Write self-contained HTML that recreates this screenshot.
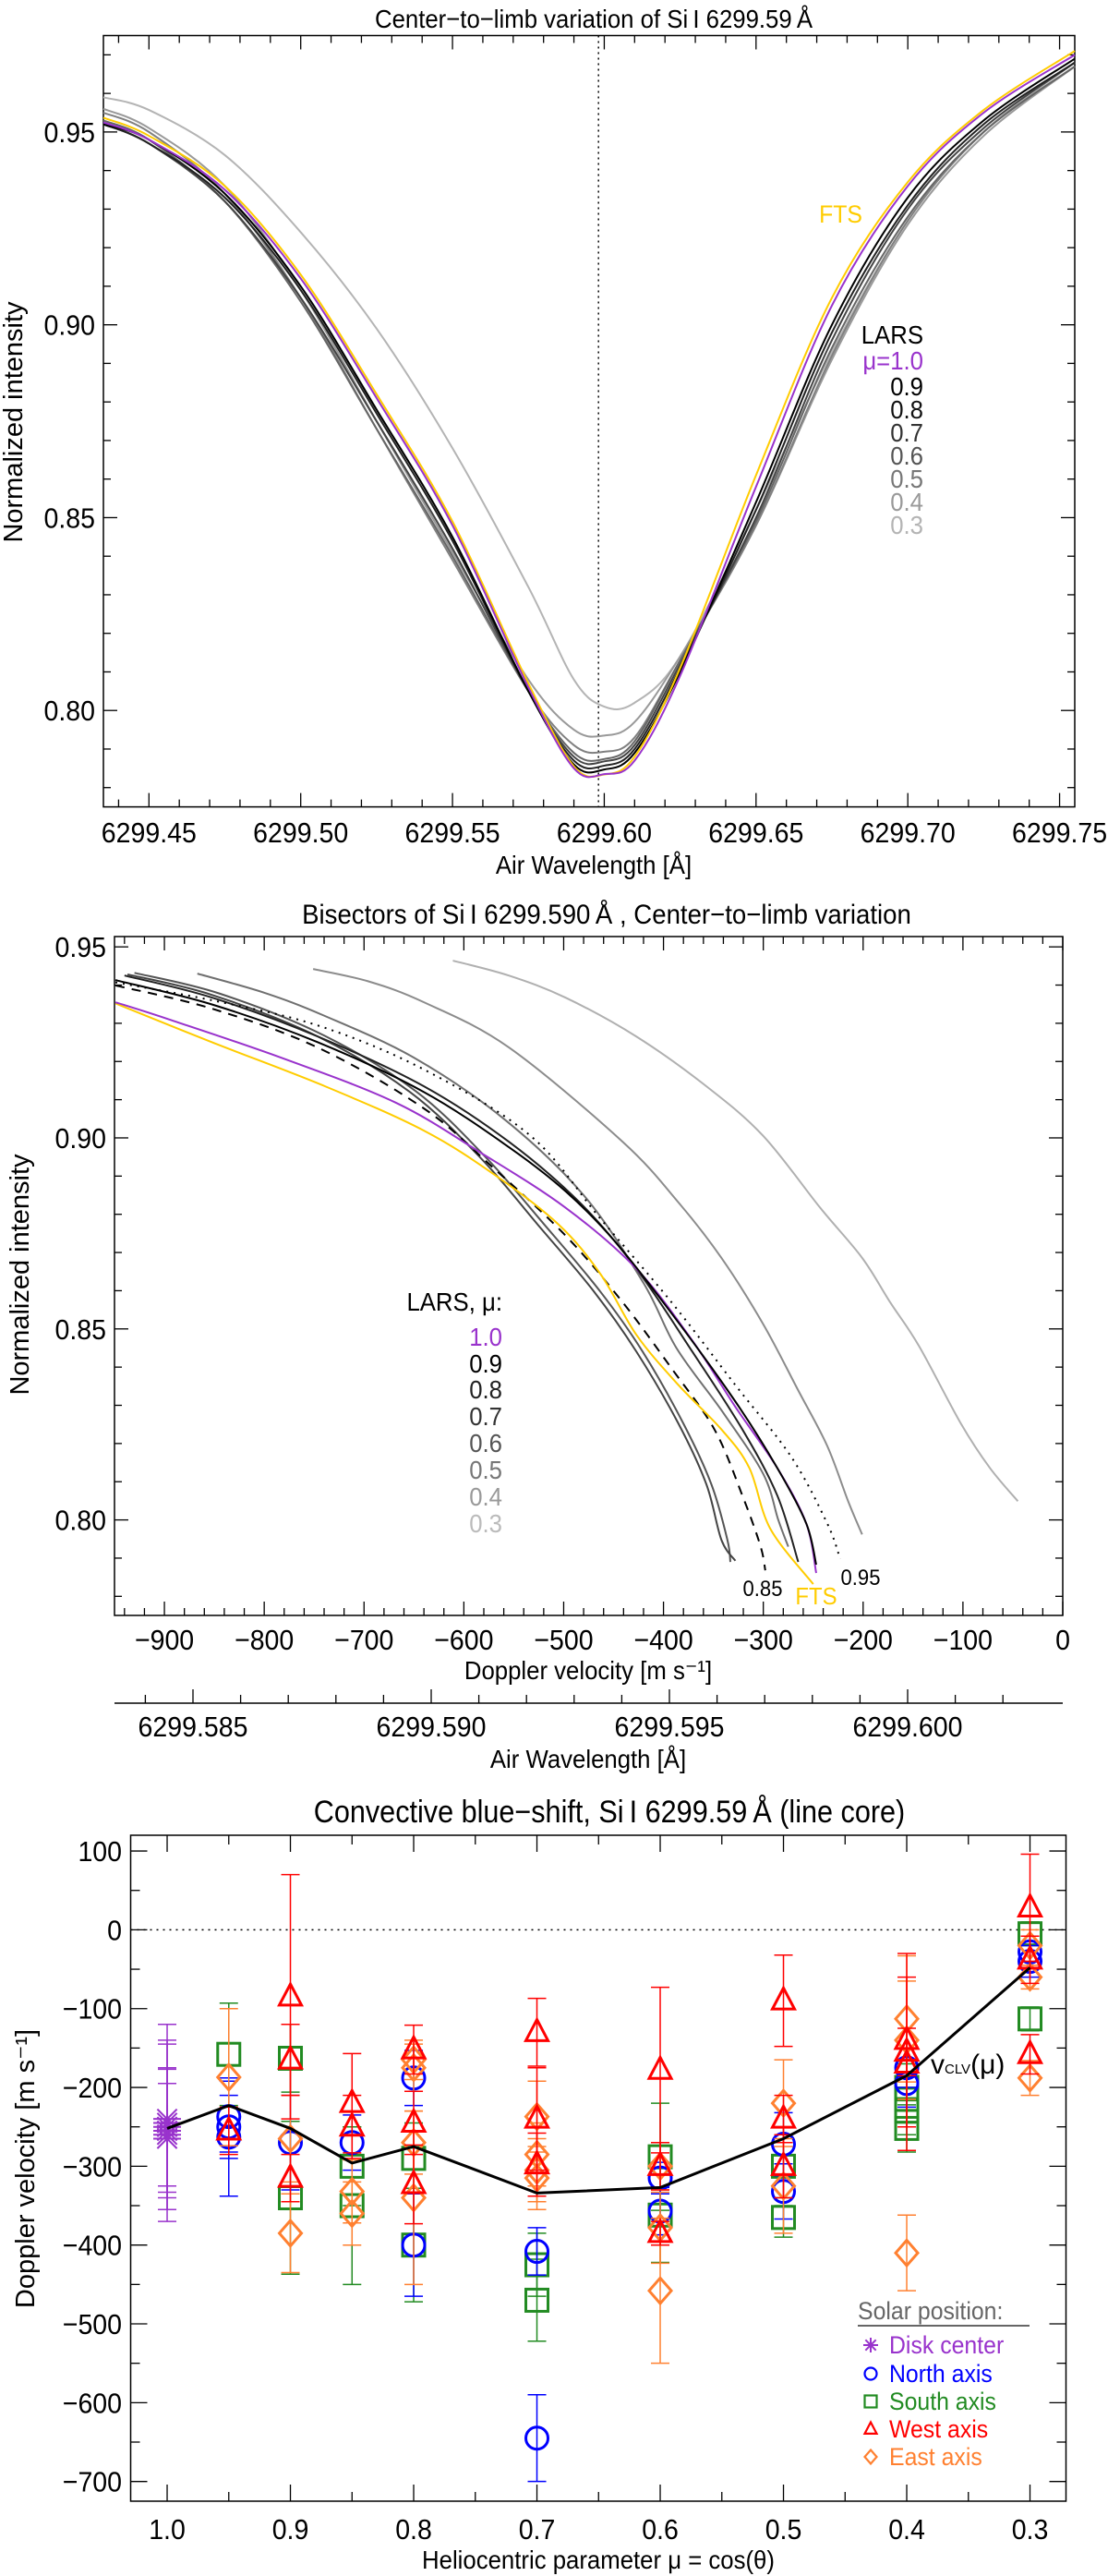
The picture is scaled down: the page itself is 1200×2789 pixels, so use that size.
<!DOCTYPE html>
<html><head><meta charset="utf-8"><style>
html,body{margin:0;padding:0;background:#fff;}
svg{display:block;font-family:"Liberation Sans",sans-serif;}
</style></head><body>
<svg id="fig" xmlns="http://www.w3.org/2000/svg" width="1200" height="2789" viewBox="0 0 1200 2789"></svg>
<script>
// ===== Panel 1 data: line profiles =====
const p1Wave = [6299.435,6299.45,6299.475,6299.50,6299.525,6299.55,6299.575,6299.59,6299.60,6299.61,6299.625,6299.65,6299.675,6299.70,6299.725,6299.755];
const p1FTS  = [0.9537,0.949,0.936,0.913,0.882,0.849,0.807,0.7855,0.7834,0.788,0.811,0.861,0.907,0.937,0.9557,0.971];
const p1Mu10 = [0.9525,0.948,0.935,0.912,0.881,0.848,0.806,0.785,0.7835,0.787,0.809,0.858,0.905,0.936,0.955,0.970];
const p1Mu09 = [0.952,0.948,0.934,0.910,0.878,0.845,0.805,0.786,0.7847,0.789,0.810,0.854,0.900,0.933,0.953,0.969];
const p1Mu08 = [0.952,0.947,0.933,0.909,0.877,0.844,0.805,0.787,0.7857,0.790,0.811,0.852,0.898,0.931,0.952,0.968];
const p1Mu07 = [0.952,0.947,0.932,0.907,0.875,0.842,0.805,0.788,0.7868,0.791,0.812,0.850,0.896,0.930,0.951,0.968];
const p1Mu06 = [0.953,0.948,0.932,0.906,0.873,0.840,0.805,0.789,0.7874,0.792,0.813,0.849,0.894,0.928,0.950,0.967];
const p1Mu05 = [0.955,0.950,0.934,0.907,0.873,0.839,0.805,0.791,0.7893,0.793,0.813,0.848,0.892,0.927,0.950,0.967];
const p1Mu04 = [0.956,0.951,0.936,0.909,0.875,0.841,0.808,0.795,0.7935,0.797,0.814,0.848,0.891,0.926,0.949,0.967];
const p1Mu03 = [0.959,0.9557,0.944,0.924,0.899,0.868,0.832,0.808,0.801,0.802,0.814,0.852,0.893,0.927,0.950,0.968];
const p1XTicks = ["6299.45","6299.50","6299.55","6299.60","6299.65","6299.70","6299.75"];
const p1YTicks = ["0.80","0.85","0.90","0.95"];

// ===== Panel 2 data: bisectors (velocity, intensity) =====
const bsFTSv = [-949,-852,-739,-640,-569,-505,-463,-427,-385,-342,-314,-293,-250];
const bsFTSi = [0.9352,0.925,0.9135,0.9019,0.8903,0.8773,0.8643,0.8484,0.8353,0.8237,0.8136,0.7977,0.7832];
const bsMu10v = [-949,-894,-781,-668,-583,-498,-427,-371,-328,-286,-257,-247];
const bsMu10i = [0.9355,0.9309,0.9208,0.9092,0.8961,0.8817,0.8657,0.8469,0.8296,0.8136,0.7991,0.7861];
const bsMu09v = [-949,-852,-746,-640,-555,-498,-449,-392,-328,-286,-257,-247];
const bsMu09i = [0.9413,0.9349,0.925,0.912,0.8976,0.886,0.873,0.8541,0.831,0.8136,0.7991,0.7883];
const bsMu08v = [-940,-852,-746,-640,-555,-484,-427,-371,-321,-286,-265];
const bsMu08i = [0.9425,0.9367,0.9265,0.9135,0.899,0.8831,0.8657,0.844,0.8237,0.8064,0.789];
const bsMu07v = [-937,-852,-746,-654,-583,-526,-470,-427,-385,-357,-342,-328];
const bsMu07i = [0.9428,0.9374,0.9265,0.912,0.8947,0.8773,0.8599,0.844,0.8252,0.8093,0.7948,0.7893];
const bsMu06v = [-930,-845,-740,-648,-578,-520,-464,-421,-380,-352,-336,-333];
const bsMu06i = [0.9432,0.9378,0.9268,0.9122,0.8949,0.8775,0.86,0.8441,0.8252,0.8093,0.7948,0.789];
const bsMu05v = [-867,-800,-740,-650,-560,-480,-420,-387,-340,-300,-285,-275];
const bsMu05i = [0.943,0.938,0.932,0.921,0.905,0.885,0.862,0.845,0.828,0.812,0.800,0.793];
const bsMu04v = [-751,-696,-640,-555,-441,-385,-342,-300,-265,-236,-215,-201];
const bsMu04i = [0.9442,0.941,0.9355,0.9237,0.899,0.8831,0.8686,0.8512,0.8339,0.8194,0.8049,0.7962];
const bsMu03v = [-611,-555,-498,-427,-357,-300,-243,-201,-173,-144,-102,-73,-45];
const bsMu03i = [0.9464,0.9425,0.9367,0.9265,0.9135,0.9005,0.8817,0.8686,0.857,0.8455,0.8252,0.8136,0.8049];
const bs085v = [-949,-852,-746,-640,-569,-498,-441,-392,-349,-321,-303,-298];
const bs085i = [0.9399,0.9338,0.9236,0.9077,0.8918,0.8744,0.857,0.8397,0.8237,0.8064,0.7933,0.7868];
const bs095v = [-949,-852,-746,-640,-533,-463,-392,-328,-272,-236,-223];
const bs095i = [0.9407,0.936,0.9294,0.9179,0.9005,0.8788,0.857,0.8353,0.8165,0.7991,0.7898];
const p2XTicks = ["-900","-800","-700","-600","-500","-400","-300","-200","-100","0"];
const p2YTicks = ["0.80","0.85","0.90","0.95"];
const p2WTicks = ["6299.585","6299.590","6299.595","6299.600"];

// ===== Panel 3 data: convective blue-shift =====
const clvMu  = [1.0,0.95,0.9,0.85,0.8,0.7,0.6,0.5,0.4,0.3];
const clvVel = [-252,-223,-252,-296,-275,-334,-327,-265,-185,-48];
const diskMu  = [1.0,1.0,1.0,1.0,1.0,1.0];
const diskVel = [-245,-250,-255,-260,-240,-265];
const diskErr = [125,105,78,65,100,90];
const northMu  = [0.95,0.95,0.95,0.9,0.85,0.8,0.8,0.7,0.7,0.6,0.6,0.5,0.5,0.4,0.4,0.3,0.3];
const northVel = [-237,-250,-263,-270,-270,-188,-400,-408,-645,-315,-357,-272,-332,-175,-195,-28,-40];
const northErr = [45,40,75,60,35,35,65,30,55,20,30,40,35,25,30,20,20];
const southMu  = [0.95,0.9,0.9,0.85,0.85,0.8,0.8,0.7,0.7,0.6,0.6,0.5,0.5,0.4,0.4,0.4,0.4,0.3,0.3];
const southVel = [-158,-163,-340,-300,-350,-290,-400,-425,-470,-288,-362,-300,-365,-200,-215,-230,-252,-5,-113];
const southErr = [65,43,97,50,100,45,72,40,52,68,60,50,25,30,30,30,30,15,15];
const westMu  = [0.95,0.9,0.9,0.9,0.85,0.85,0.8,0.8,0.8,0.7,0.7,0.7,0.6,0.6,0.6,0.5,0.5,0.5,0.4,0.4,0.4,0.3,0.3,0.3];
const westVel = [-255,-85,-165,-315,-220,-250,-152,-245,-323,-130,-240,-298,-178,-300,-385,-90,-240,-300,-140,-155,-170,28,-38,-158];
const westErr = [30,155,45,30,63,40,31,40,50,43,65,40,105,30,15,58,30,40,110,30,110,68,30,25];
const eastMu  = [0.95,0.9,0.9,0.85,0.85,0.8,0.8,0.8,0.8,0.7,0.7,0.7,0.7,0.6,0.6,0.6,0.5,0.5,0.4,0.4,0.4,0.3,0.3,0.3];
const eastVel = [-187,-265,-385,-332,-360,-165,-175,-270,-340,-237,-285,-305,-315,-300,-378,-458,-220,-325,-113,-140,-410,-20,-60,-188];
const eastErr = [87,55,50,40,40,25,30,40,110,45,40,40,40,30,45,92,55,60,80,75,48,20,15,22];
const p3XTicks = ["1.0","0.9","0.8","0.7","0.6","0.5","0.4","0.3"];
const p3YTicks = ["-700","-600","-500","-400","-300","-200","-100","0","100"];

// ===== drawing =====
const NS="http://www.w3.org/2000/svg";
const svg=document.getElementById('fig');
function mk(tag,attrs,parent){const e=document.createElementNS(NS,tag);for(const k in attrs)e.setAttribute(k,attrs[k]);(parent||svg).appendChild(e);return e;}
function txt(x,y,s,size,anchor,color,sx,parent){
  const t=mk('text',{x:0,y:0,'font-size':size,'text-anchor':anchor||'start',fill:color||'#000',transform:`translate(${x},${y}) scale(${sx||0.92},1)`},parent);
  t.textContent=s;return t;}
function line(x1,y1,x2,y2,stroke,w,parent,dash){return mk('line',{x1,y1,x2,y2,stroke,'stroke-width':w,'stroke-dasharray':dash||'none'},parent);}
function smoothPath(pts){
  let d=`M${pts[0][0]},${pts[0][1]}`;
  for(let i=0;i<pts.length-1;i++){
    const p0=pts[Math.max(0,i-1)],p1=pts[i],p2=pts[i+1],p3=pts[Math.min(pts.length-1,i+2)];
    const c1=[p1[0]+(p2[0]-p0[0])/6,p1[1]+(p2[1]-p0[1])/6];
    const c2=[p2[0]-(p3[0]-p1[0])/6,p2[1]-(p3[1]-p1[1])/6];
    d+=` C${c1[0]},${c1[1]} ${c2[0]},${c2[1]} ${p2[0]},${p2[1]}`;
  }return d;}
function fmtMinus(s){return s.replace('-','\u2212');}

// ---------- Panel 1 ----------
const P1={l:112,r:1164,t:38.5,b:873.6,x0:6299.435,x1:6299.755,y0:0.775,y1:0.975};
const x1=w=>P1.l+(w-P1.x0)/(P1.x1-P1.x0)*(P1.r-P1.l);
const y1=v=>P1.t+(P1.y1-v)/(P1.y1-P1.y0)*(P1.b-P1.t);
const g1=mk('g',{});


let t=txt(643,30,'Center\u2212to\u2212limb variation of Si\u2009I 6299.59\u2009Å',28,'middle','#000',0.92,g1);

mk('rect',{x:P1.l,y:P1.t,width:P1.r-P1.l,height:P1.b-P1.t,fill:'none',stroke:'#000','stroke-width':1.5},g1);
for(let k=0;k<=32;k++){const w=6299.44+k*0.01;if(w>P1.x1+1e-9)break;const X=x1(w);const maj=Math.abs(Math.round(w*20)-w*20)<1e-6;const L=maj?15:8;
  line(X,P1.b,X,P1.b-L,'#000',1.3,g1);line(X,P1.t,X,P1.t+L,'#000',1.3,g1);}
p1XTicks.forEach(s=>{const X=x1(parseFloat(s));const e=txt(X,912,s,31,'middle','#000',0.92,g1);});
for(let k=0;k<=20;k++){const v=0.78+k*0.01;if(v>P1.y1)break;const Y=y1(v);const maj=Math.abs(Math.round(v*20)-v*20)<1e-6;const L=maj?15:8;
  line(P1.l,Y,P1.l+L,Y,'#000',1.3,g1);line(P1.r,Y,P1.r-L,Y,'#000',1.3,g1);}
p1YTicks.forEach(s=>{const e=txt(103,y1(parseFloat(s))+11,s,31,'end','#000',0.92,g1);});
t=txt(643,946,'Air Wavelength [Å]',28,'middle','#000',0.92,g1);
t=mk('text',{x:0,y:0,'font-size':29,'text-anchor':'middle',transform:`translate(24,457) rotate(-90)`},g1);t.textContent='Normalized intensity';

line(x1(6299.5981),P1.t,x1(6299.5981),P1.b,'#000',1.5,g1,'2,4');
const p1Series=[[p1Mu03,'#b4b4b4','mu-0.3'],[p1Mu04,'#999','mu-0.4'],[p1Mu05,'#808080','mu-0.5'],[p1Mu06,'#666','mu-0.6'],[p1Mu07,'#444','mu-0.7'],[p1Mu08,'#222','mu-0.8'],[p1Mu09,'#000','mu-0.9'],[p1FTS,'#ffcc00','fts'],[p1Mu10,'#9933cc','mu-1.0']];
p1Series.forEach(([vals,c,n])=>{const pts=p1Wave.map((w,i)=>[x1(w),y1(vals[i])]);
  const p=mk('path',{d:smoothPath(pts),fill:'none',stroke:c,'stroke-width':2},g1);
  });
t=txt(934,241,'FTS',27,'end','#ffcc00',0.92,g1);
const p1Leg=[['LARS','#000',372],['\u03bc=1.0','#9933cc',400],['0.9','#000',428],['0.8','#111',453],['0.7','#333',478],['0.6','#555',503],['0.5','#777',528],['0.4','#999',553],['0.3','#b4b4b4',578]];
p1Leg.forEach(([s,c,y])=>{const e=txt(1000,y,s,28,'end',c,0.92,g1);});

// ---------- Panel 2 ----------
const P2={l:124,r:1151,t:1014,b:1749,x0:-950,x1:0,y0:0.775,y1:0.9527};
const x2=v=>P2.l+(v-P2.x0)/(P2.x1-P2.x0)*(P2.r-P2.l);
const y2=v=>P2.t+(P2.y1-v)/(P2.y1-P2.y0)*(P2.b-P2.t);
const g2=mk('g',{});


t=txt(657,1000,'Bisectors of Si\u2009I 6299.590\u2009Å , Center\u2212to\u2212limb variation',30,'middle','#000',0.92,g2);

mk('rect',{x:P2.l,y:P2.t,width:P2.r-P2.l,height:P2.b-P2.t,fill:'none',stroke:'#000','stroke-width':1.5},g2);
for(let v=-940;v<=0;v+=20){const X=x2(v);const L=(v%100===0)?15:8;line(X,P2.b,X,P2.b-L,'#000',1.3,g2);line(X,P2.t,X,P2.t+L,'#000',1.3,g2);}
p2XTicks.forEach(s=>{const e=txt(x2(parseFloat(s)),1786,fmtMinus(s),31,'middle','#000',0.92,g2);});
for(let k=0;k<=17;k++){const v=0.78+k*0.01;if(v>P2.y1)break;const Y=y2(v);const maj=Math.abs(Math.round(v*20)-v*20)<1e-6;const L=maj?15:8;
  line(P2.l,Y,P2.l+L,Y,'#000',1.3,g2);line(P2.r,Y,P2.r-L,Y,'#000',1.3,g2);}
p2YTicks.forEach(s=>{const e=txt(115,y2(parseFloat(s))+11,s,31,'end','#000',0.92,g2);});
t=txt(637,1818,'Doppler velocity [m s\u207b\u00b9]',28,'middle','#000',0.92,g2);
t=mk('text',{x:0,y:0,'font-size':29,'text-anchor':'middle',transform:`translate(31,1380) rotate(-90)`},g2);t.textContent='Normalized intensity';

const bsSeries=[[bsMu03v,bsMu03i,'#b0b0b0','none','mu-0.3'],[bsMu04v,bsMu04i,'#8c8c8c','none','mu-0.4'],[bsMu05v,bsMu05i,'#707070','none','mu-0.5'],
 [bsMu06v,bsMu06i,'#555','none','mu-0.6'],[bsMu07v,bsMu07i,'#444','none','mu-0.7'],[bsMu08v,bsMu08i,'#222','none','mu-0.8'],
 [bs095v,bs095i,'#000','2,6','fts-0.95'],[bs085v,bs085i,'#000','10,8','fts-0.85'],[bsFTSv,bsFTSi,'#ffcc00','none','fts'],[bsMu10v,bsMu10i,'#9933cc','none','mu-1.0'],[bsMu09v,bsMu09i,'#000','none','mu-0.9']];
bsSeries.forEach(([vv,ii,c,d,n])=>{const pts=vv.map((v,i)=>[x2(v),y2(ii[i])]);
  const p=mk('path',{d:smoothPath(pts),fill:'none',stroke:c,'stroke-width':2,'stroke-dasharray':d},g2);
  });
const p2Leg=[['LARS, \u03bc:','#000',1419],['1.0','#9933cc',1457],['0.9','#000',1486],['0.8','#222',1514],['0.7','#333',1543],['0.6','#555',1572],['0.5','#777',1601],['0.4','#999',1630],['0.3','#bbb',1659]];
p2Leg.forEach(([s,c,y])=>{const e=txt(544,y,s,28,'end',c,0.92,g2);});
t=txt(826,1728,'0.85',24,'middle','#000',0.92,g2);
t=txt(884,1737,'FTS',26,'middle','#ffcc00',0.92,g2);
t=txt(932,1716,'0.95',24,'middle','#000',0.92,g2);
// secondary wavelength axis
const xw=w=>209+(w-6299.585)/0.005*258;
line(P2.l,1844,P2.r,1844,'#000',1.5,g2);
for(let k=-1;k<=18;k++){const w=6299.584+k*0.001;const X=xw(w);if(X<P2.l-1||X>P2.r+1)continue;const maj=Math.abs(Math.round(w*200)-w*200)<1e-6;
  line(X,1844,X,1844-(maj?15:9),'#000',1.3,g2);}
p2WTicks.forEach(s=>{const e=txt(xw(parseFloat(s)),1880,s,31,'middle','#000',0.92,g2);});
t=txt(637,1914,'Air Wavelength [Å]',28,'middle','#000',0.92,g2);

// ---------- Panel 3 ----------
const P3={l:141.5,r:1154.5,t:1987,b:2708,x0:1.0296,x1:0.2708,y0:-725,y1:120};
const x3=m=>P3.l+(P3.x0-m)/(P3.x0-P3.x1)*(P3.r-P3.l);
const y3=v=>P3.t+(P3.y1-v)/(P3.y1-P3.y0)*(P3.b-P3.t);
const g3=mk('g',{});


t=txt(660,1973,'Convective blue\u2212shift, Si\u2009I 6299.59\u2009Å (line core)',34,'middle','#000',0.9,g3);

mk('rect',{x:P3.l,y:P3.t,width:P3.r-P3.l,height:P3.b-P3.t,fill:'none',stroke:'#000','stroke-width':1.5},g3);
for(let k=0;k<=14;k++){const m=1.0-k*0.05;if(m<P3.x1)break;const X=x3(m);const L=(k%2===0)?18:10;line(X,P3.b,X,P3.b-L,'#000',1.3,g3);line(X,P3.t,X,P3.t+L,'#000',1.3,g3);}
p3XTicks.forEach(s=>{const e=txt(x3(parseFloat(s)),2749,s,31,'middle','#000',0.92,g3);});
for(let v=-700;v<=100;v+=50){const Y=y3(v);const L=(v%100===0)?18:10;line(P3.l,Y,P3.l+L,Y,'#000',1.3,g3);line(P3.r,Y,P3.r-L,Y,'#000',1.3,g3);}
p3YTicks.forEach(s=>{const e=txt(132,y3(parseFloat(s))+11,fmtMinus(s),31,'end','#000',0.92,g3);});
t=txt(648,2781,'Heliocentric parameter \u03bc = cos(\u03b8)',28,'middle','#000',0.92,g3);
t=mk('text',{x:0,y:0,'font-size':29,'text-anchor':'middle',transform:`translate(37,2348) rotate(-90)`},g3);t.textContent='Doppler velocity [m s\u207b\u00b9]';

line(P3.l,y3(0),P3.r,y3(0),'#000',1.5,g3,'2,5');

function marker(kind,X,Y,c,s,parent){
  const a={fill:'none',stroke:c,'stroke-width':s>10?3:2.2};
  let e;
  if(kind==='circle'){e=mk('circle',Object.assign({cx:X,cy:Y,r:s},a),parent);}
  else if(kind==='square'){e=mk('rect',Object.assign({x:X-s,y:Y-s,width:2*s,height:2*s},a),parent);}
  else if(kind==='tri'){e=mk('polygon',Object.assign({points:`${X},${Y-s*1.15} ${X-s},${Y+s*0.75} ${X+s},${Y+s*0.75}`},a),parent);}
  else if(kind==='diamond'){e=mk('polygon',Object.assign({points:`${X},${Y-s*1.15} ${X+s},${Y} ${X},${Y+s*1.15} ${X-s},${Y}`},a),parent);}
  else {e=mk('g',{},parent);for(let k=0;k<4;k++){const an=k*Math.PI/4;line(X-s*Math.cos(an),Y-s*Math.sin(an),X+s*Math.cos(an),Y+s*Math.sin(an),c,2,e);}}
  return e;}
const p3Series=[[diskMu,diskVel,diskErr,'#9933cc','star','disk-center'],[southMu,southVel,southErr,'#228b22','square','south-axis'],
 [northMu,northVel,northErr,'#0000ff','circle','north-axis'],[eastMu,eastVel,eastErr,'#ff8030','diamond','east-axis'],[westMu,westVel,westErr,'#ff0000','tri','west-axis']];
p3Series.forEach(([mu,vel,err,c,kind,n])=>{
  const gs=mk('g',{},g3);
  
  
  mu.forEach((m,i)=>{const X=x3(m),Yt=y3(vel[i]+err[i]),Yb=y3(vel[i]-err[i]);
    line(X,Yt,X,Yb,c,1.5,gs);line(X-10,Yt,X+10,Yt,c,1.5,gs);line(X-10,Yb,X+10,Yb,c,1.5,gs);
    const mm=marker(kind,X,y3(vel[i]),c,kind==='star'?15:12,gs);
    
    });
});
const clvPath=mk('polyline',{points:clvMu.map((m,i)=>`${x3(m)},${y3(clvVel[i])}`).join(' '),fill:'none',stroke:'#000','stroke-width':3},g3);


const vl=mk('text',{x:1008,y:2245,'font-size':30,fill:'#000'},g3);

vl.innerHTML='v<tspan font-size="15">CLV</tspan>(\u03bc)';
// legend
const lg=mk('g',{},g3);


t=txt(929,2511,'Solar position:',27,'start','#666',0.92,lg);
line(929,2518,1115,2518,'#666',2,lg);
const legItems=[['star','#9933cc','Disk center',2548],['circle','#0000ff','North axis',2579],['square','#228b22','South axis',2609],['tri','#ff0000','West axis',2639],['diamond','#ff8030','East axis',2669]];
legItems.forEach(([k,c,s,y])=>{const m=marker(k,943,y-9,c,k==='star'?8:6.5,lg);
  
  const e=txt(963,y,s,27,'start',c,0.92,lg);});
</script>
</body></html>
